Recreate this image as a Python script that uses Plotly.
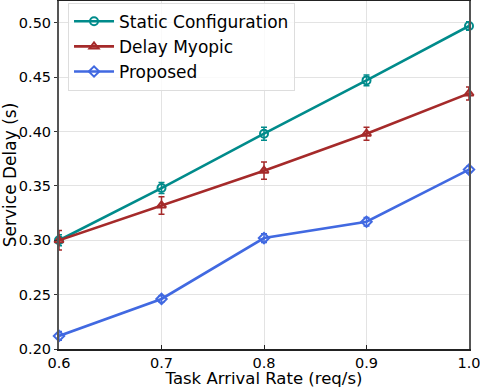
import plotly.graph_objects as go

x_rates = [0.6, 0.7, 0.8, 0.9, 1.0]
static_cfg = [0.300, 0.348, 0.398, 0.447, 0.497]
static_err = [0.005, 0.005, 0.006, 0.005, 0.004]
myopic = [0.300, 0.332, 0.364, 0.398, 0.435]
myopic_err = [0.009, 0.008, 0.008, 0.006, 0.006]
proposed = [0.212, 0.246, 0.302, 0.317, 0.365]
proposed_err = [0.004, 0.003, 0.004, 0.004, 0.003]

series = [
    ("Static Configuration", static_cfg, static_err, "#008b8b", "circle-open"),
    ("Delay Myopic", myopic, myopic_err, "#a52a2a", "triangle-up-open"),
    ("Proposed", proposed, proposed_err, "#4169e1", "diamond-open"),
]

fig = go.Figure()
for name, ys, err, col, sym in series:
    fig.add_trace(go.Scatter(
        x=x_rates, y=ys, name=name, mode="lines+markers",
        line=dict(color=col, width=2.6),
        marker=dict(symbol=sym, size=8, color=col, line=dict(width=2, color=col)),
        error_y=dict(type="data", array=err, visible=True, color=col, thickness=1.5, width=3),
        cliponaxis=False,
    ))

font = "DejaVu Sans"
fig.update_layout(
    width=480, height=388,
    margin=dict(l=59, r=11, t=1, b=39),
    paper_bgcolor="white", plot_bgcolor="white",
    font=dict(family=font, color="black", size=14.5),
    showlegend=True,
    legend=dict(
        x=0.022, y=0.995, xanchor="left", yanchor="top",
        bgcolor="rgba(255,255,255,0.8)", bordercolor="#dddddd", borderwidth=1,
        font=dict(size=17, family=font), tracegroupgap=0, itemwidth=40,
    ),
    xaxis=dict(
        range=[0.6, 1.0], tickvals=[0.6, 0.7, 0.8, 0.9, 1.0],
        ticktext=["0.6", "0.7", "0.8", "0.9", "1.0"],
        showgrid=True, gridcolor="#e3e3e3", gridwidth=1,
        showline=True, linecolor="#222222", linewidth=1.5, mirror=True,
        ticks="inside", ticklen=4, tickcolor="#222222",
        tickfont=dict(size=14.5), zeroline=False, ticklabeloverflow="allow",
        automargin=False,
        title=dict(text="Task Arrival Rate (req/s)", font=dict(size=16.5), standoff=8),
    ),
    yaxis=dict(
        range=[0.2, 0.52], tickvals=[0.20, 0.25, 0.30, 0.35, 0.40, 0.45, 0.50],
        ticktext=["0.20", "0.25", "0.30", "0.35", "0.40", "0.45", "0.50"],
        showgrid=True, gridcolor="#e3e3e3", gridwidth=1,
        showline=True, linecolor="#555555", linewidth=2, mirror=True,
        ticks="outside", ticklen=3, tickcolor="#333333",
        tickfont=dict(size=14.5), zeroline=False, automargin=False,
        title=dict(text="Service Delay (s)", font=dict(size=17), standoff=4),
    ),
)
fig.write_html("out.html", config={"displayModeBar": False},
               post_script="document.body.style.margin='0';document.body.style.padding='0';")
